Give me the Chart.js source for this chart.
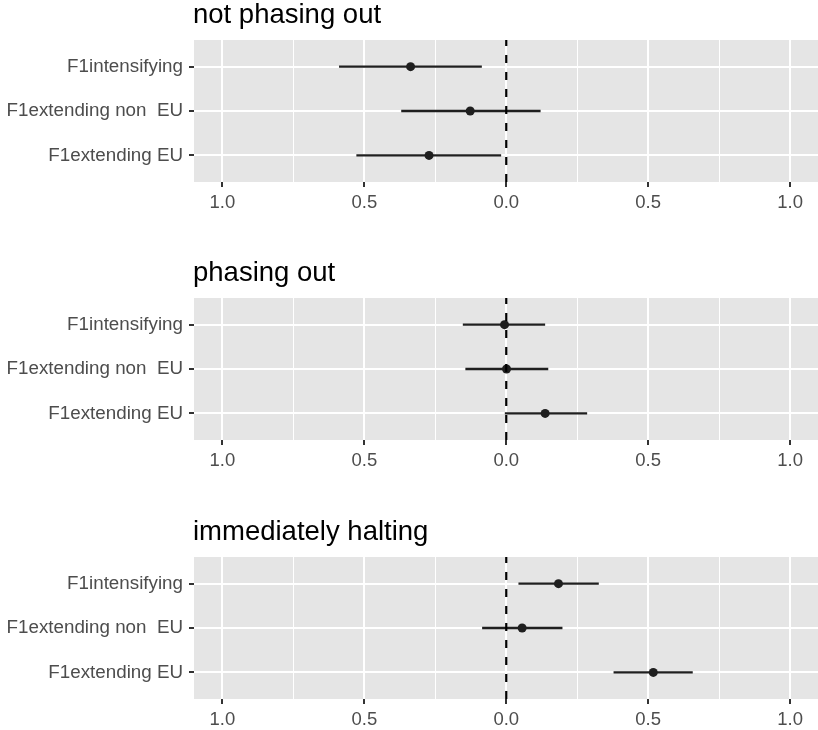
<!DOCTYPE html>
<html>
<head>
<meta charset="utf-8">
<script src="https://cdn.jsdelivr.net/npm/chart.js@4"></script>
<style>
    html, body { margin: 0; padding: 0; background: #ffffff; overflow: hidden; }
    #wrap { position: relative; width: 818px; height: 730px; overflow: hidden; }
    .panel { position: absolute; left: 0; width: 818px; height: 215px; overflow: hidden; }
</style>
</head>
<body>
<div id="wrap">
    <div class="panel" style="top:0px"><canvas id="panel0" width="823" height="215"></canvas></div>
    <div class="panel" style="top:258px"><canvas id="panel1" width="823" height="215"></canvas></div>
    <div class="panel" style="top:517px"><canvas id="panel2" width="823" height="215"></canvas></div>
</div>
<script>
// chart data (rows listed top to bottom)
const categories = ['F1intensifying', 'F1extending non  EU', 'F1extending EU'];
const panelTitles = ['not phasing out', 'phasing out', 'immediately halting'];

// point estimates per panel
const estimates = [
    [-0.337, -0.127, -0.272],
    [-0.006, 0.001, 0.137],
    [0.184, 0.056, 0.518]
];
// lower / upper ends of the intervals
const lower = [
    [-0.589, -0.370, -0.528],
    [-0.153, -0.144, -0.005],
    [0.043, -0.085, 0.378]
];
const upper = [
    [-0.086, 0.121, -0.018],
    [0.137, 0.148, 0.285],
    [0.326, 0.198, 0.657]
];

const xTicks = [-1, -0.75, -0.5, -0.25, 0, 0.25, 0.5, 0.75, 1];
const xMajor = [-1, -0.5, 0, 0.5, 1];
const xMin = -1.1, xMax = 1.1;
const yMin = 0.4, yMax = 3.6;

const FONT = '"Liberation Sans", Arial, Helvetica, sans-serif';
const INK = '#1f1f1f';

// y position for a row index (top row gets the highest value)
function rowY(i) {
    return categories.length - i;
}

function isMajor(v) {
    return xMajor.some(m => Math.abs(m - v) < 1e-9);
}

// grey panel background
const panelBackground = {
    id: 'panelBackground',
    beforeDraw(chart) {
        const a = chart.chartArea;
        const ctx = chart.ctx;
        ctx.save();
        ctx.fillStyle = '#e5e5e5';
        ctx.fillRect(a.left, a.top, a.right - a.left, a.bottom - a.top);
        ctx.restore();
    }
};

// left aligned panel title above the plot area
const panelTitle = {
    id: 'panelTitle',
    afterDraw(chart, args, opts) {
        const ctx = chart.ctx;
        ctx.save();
        ctx.font = '27.5px ' + FONT;
        ctx.fillStyle = '#000000';
        ctx.textBaseline = 'alphabetic';
        ctx.textAlign = 'left';
        ctx.fillText(opts.text, chart.chartArea.left - 1, chart.chartArea.top - 17);
        ctx.restore();
    }
};

function buildPanel(p) {
    const datasets = [];

    // dashed reference line at zero
    datasets.push({
        data: [{ x: 0, y: yMin }, { x: 0, y: yMax }],
        showLine: true,
        borderColor: '#000000',
        borderWidth: 2.2,
        borderDash: [8, 9],
        pointRadius: 0
    });

    // interval segments
    categories.forEach((c, i) => {
        datasets.push({
            data: [{ x: lower[p][i], y: rowY(i) }, { x: upper[p][i], y: rowY(i) }],
            showLine: true,
            borderColor: INK,
            borderWidth: 2.4,
            pointRadius: 0
        });
    });

    // point estimates
    datasets.push({
        data: categories.map((c, i) => ({ x: estimates[p][i], y: rowY(i) })),
        showLine: false,
        pointRadius: 4.5,
        pointBackgroundColor: INK,
        pointBorderColor: INK,
        pointBorderWidth: 0
    });

    const ctx = document.getElementById('panel' + p).getContext('2d');
    new Chart(ctx, {
        type: 'scatter',
        data: { datasets: datasets },
        plugins: [panelBackground, panelTitle],
        options: {
            responsive: false,
            animation: false,
            devicePixelRatio: 1,
            layout: { padding: { top: 40, right: 0, bottom: 0, left: 0 } },
            plugins: {
                legend: { display: false },
                tooltip: { enabled: false },
                panelTitle: { text: panelTitles[p] }
            },
            scales: {
                x: {
                    type: 'linear',
                    min: xMin,
                    max: xMax,
                    afterBuildTicks(scale) {
                        scale.ticks = xTicks.map(v => ({ value: v }));
                    },
                    afterFit(scale) {
                        scale.height = 33;
                        scale.paddingLeft = 0;
                        scale.paddingRight = 0;
                    },
                    border: { display: false },
                    grid: {
                        color: '#ffffff',
                        lineWidth: c => (isMajor(c.tick.value) ? 2 : 1),
                        tickLength: 5,
                        tickWidth: 2,
                        tickColor: c => (isMajor(c.tick.value) ? '#333333' : 'rgba(0,0,0,0)')
                    },
                    ticks: {
                        autoSkip: false,
                        maxRotation: 0,
                        padding: 5,
                        color: '#4d4d4d',
                        font: { family: FONT, size: 18.5 },
                        callback: v => (isMajor(v) ? Math.abs(v).toFixed(1) : '')
                    }
                },
                y: {
                    type: 'linear',
                    min: yMin,
                    max: yMax,
                    afterBuildTicks(scale) {
                        scale.ticks = categories.map((c, i) => ({ value: rowY(i) }));
                    },
                    afterFit(scale) {
                        scale.width = 194;
                        scale.paddingTop = 0;
                        scale.paddingBottom = 0;
                    },
                    border: { display: false },
                    grid: {
                        color: '#ffffff',
                        lineWidth: 2,
                        tickLength: 5,
                        tickWidth: 2,
                        tickColor: '#333333'
                    },
                    ticks: {
                        autoSkip: false,
                        padding: 6,
                        color: '#4d4d4d',
                        font: { family: FONT, size: 18.8 },
                        callback: v => categories[categories.length - v]
                    }
                }
            }
        }
    });
}

panelTitles.forEach((t, p) => buildPanel(p));
</script>
</body>
</html>
